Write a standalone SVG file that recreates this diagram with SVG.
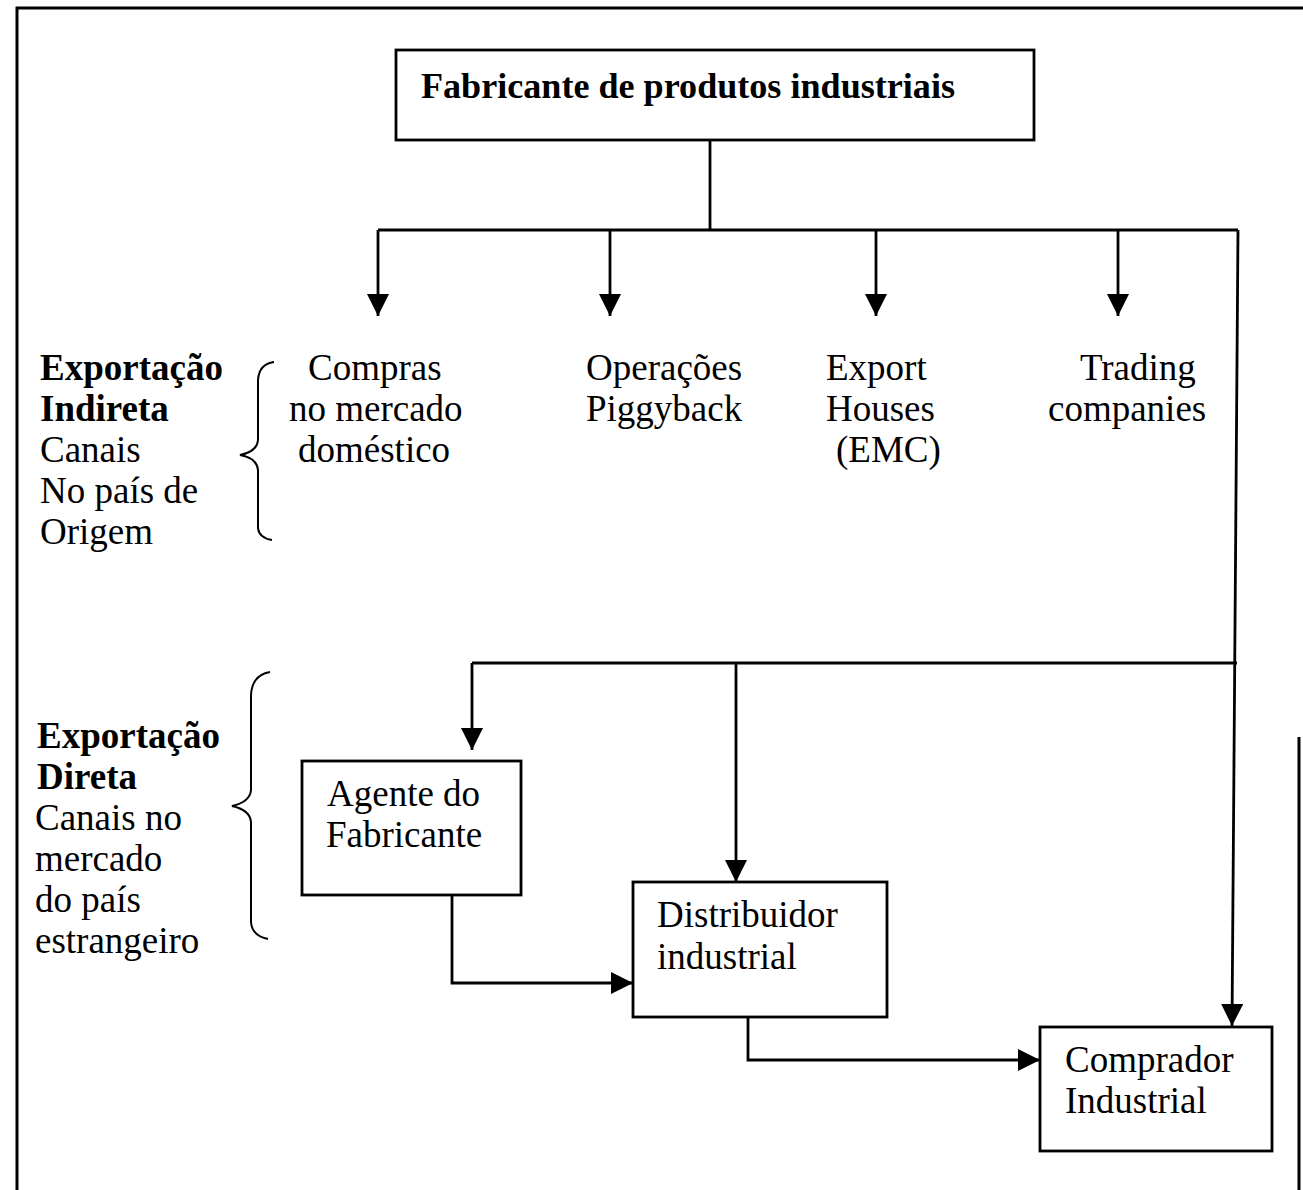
<svg xmlns="http://www.w3.org/2000/svg" width="1303" height="1190" viewBox="0 0 1303 1190">
  <style>
    .box { fill: #ffffff; stroke: #000000; stroke-width: 2.8; }
    .wire { fill: none; stroke: #000000; stroke-width: 2.8; }
    .frame { fill: none; stroke: #000000; stroke-width: 3; }
    .brace { fill: none; stroke: #000000; stroke-width: 2; }
    text { font-family: "Liberation Serif", "Times New Roman", serif; font-size: 37px; fill: #000000; }
    .b { font-weight: bold; }
    .title { font-size: 35.8px; }
  </style>
  <defs>
    <marker id="arrow" viewBox="0 0 22 22" refX="22" refY="11" markerWidth="22" markerHeight="22" markerUnits="userSpaceOnUse" orient="auto">
      <path d="M0,0 L22,11 L0,22 Z" fill="#000000"/>
    </marker>
  </defs>

  <rect width="1303" height="1190" fill="#ffffff"/>

  <!-- page frame -->
  <g id="frame">
    <path class="frame" d="M17,1190 L17,8 L1303,8"/>
    <path class="frame" d="M1299,737 L1299,1190"/>
  </g>

  <!-- connectors -->
  <g id="connectors">
    <path class="wire" d="M710,140 L710,230"/>
    <path class="wire" d="M378,230 L1238,230"/>
    <path class="wire" d="M378,230 L378,316" marker-end="url(#arrow)"/>
    <path class="wire" d="M610,230 L610,316" marker-end="url(#arrow)"/>
    <path class="wire" d="M876,230 L876,316" marker-end="url(#arrow)"/>
    <path class="wire" d="M1118,230 L1118,316" marker-end="url(#arrow)"/>
    <path class="wire" d="M1238,230 L1232,1026" marker-end="url(#arrow)"/>
    <path class="wire" d="M472,663 L1237,663"/>
    <path class="wire" d="M472,663 L472,750" marker-end="url(#arrow)"/>
    <path class="wire" d="M736,663 L736,882" marker-end="url(#arrow)"/>
    <path class="wire" d="M452,895 L452,983 L633,983" marker-end="url(#arrow)"/>
    <path class="wire" d="M748,1017 L748,1060 L1040,1060" marker-end="url(#arrow)"/>
  </g>

  <!-- manufacturer -->
  <g id="fabricante">
    <rect class="box" x="396" y="50" width="638" height="90"/>
    <text class="b title" x="421" y="98" textLength="534" lengthAdjust="spacingAndGlyphs">Fabricante de produtos industriais</text>
  </g>

  <!-- indirect export channels -->
  <g id="compras">
    <text x="308" y="380">Compras</text>
    <text x="289" y="421">no mercado</text>
    <text x="298" y="462">doméstico</text>
  </g>
  <g id="piggyback">
    <text x="586" y="380">Operações</text>
    <text x="586" y="421">Piggyback</text>
  </g>
  <g id="export-houses">
    <text x="826" y="380">Export</text>
    <text x="826" y="421">Houses</text>
    <text x="836" y="462">(EMC)</text>
  </g>
  <g id="trading">
    <text x="1080" y="380">Trading</text>
    <text x="1048" y="421">companies</text>
  </g>

  <!-- side labels with braces -->
  <g id="indireta">
    <text class="b" x="40" y="380">Exportação</text>
    <text class="b" x="40" y="421">Indireta</text>
    <text x="40" y="462">Canais</text>
    <text x="40" y="503">No país de</text>
    <text x="40" y="544">Origem</text>
    <path class="brace" d="M274,362 Q259,364 258,380 L258,440 Q257,452 240,455 Q257,458 258,470 L258,528 Q259,538 272,540"/>
  </g>
  <g id="direta">
    <text class="b" x="37" y="748">Exportação</text>
    <text class="b" x="37" y="789">Direta</text>
    <text x="35" y="830">Canais no</text>
    <text x="35" y="871">mercado</text>
    <text x="35" y="912">do país</text>
    <text x="35" y="953">estrangeiro</text>
    <path class="brace" d="M270,672 Q252,675 251,695 L251,790 Q250,802 232,806 Q250,810 251,822 L251,922 Q252,936 268,939"/>
  </g>

  <!-- direct export channels -->
  <g id="agente">
    <rect class="box" x="302" y="761" width="219" height="134"/>
    <text x="327" y="806">Agente do</text>
    <text x="326" y="847">Fabricante</text>
  </g>
  <g id="distribuidor">
    <rect class="box" x="633" y="882" width="254" height="135"/>
    <text x="657" y="927">Distribuidor</text>
    <text x="657" y="969">industrial</text>
  </g>
  <g id="comprador">
    <rect class="box" x="1040" y="1027" width="232" height="124"/>
    <text x="1065" y="1072">Comprador</text>
    <text x="1065" y="1113">Industrial</text>
  </g>
</svg>
